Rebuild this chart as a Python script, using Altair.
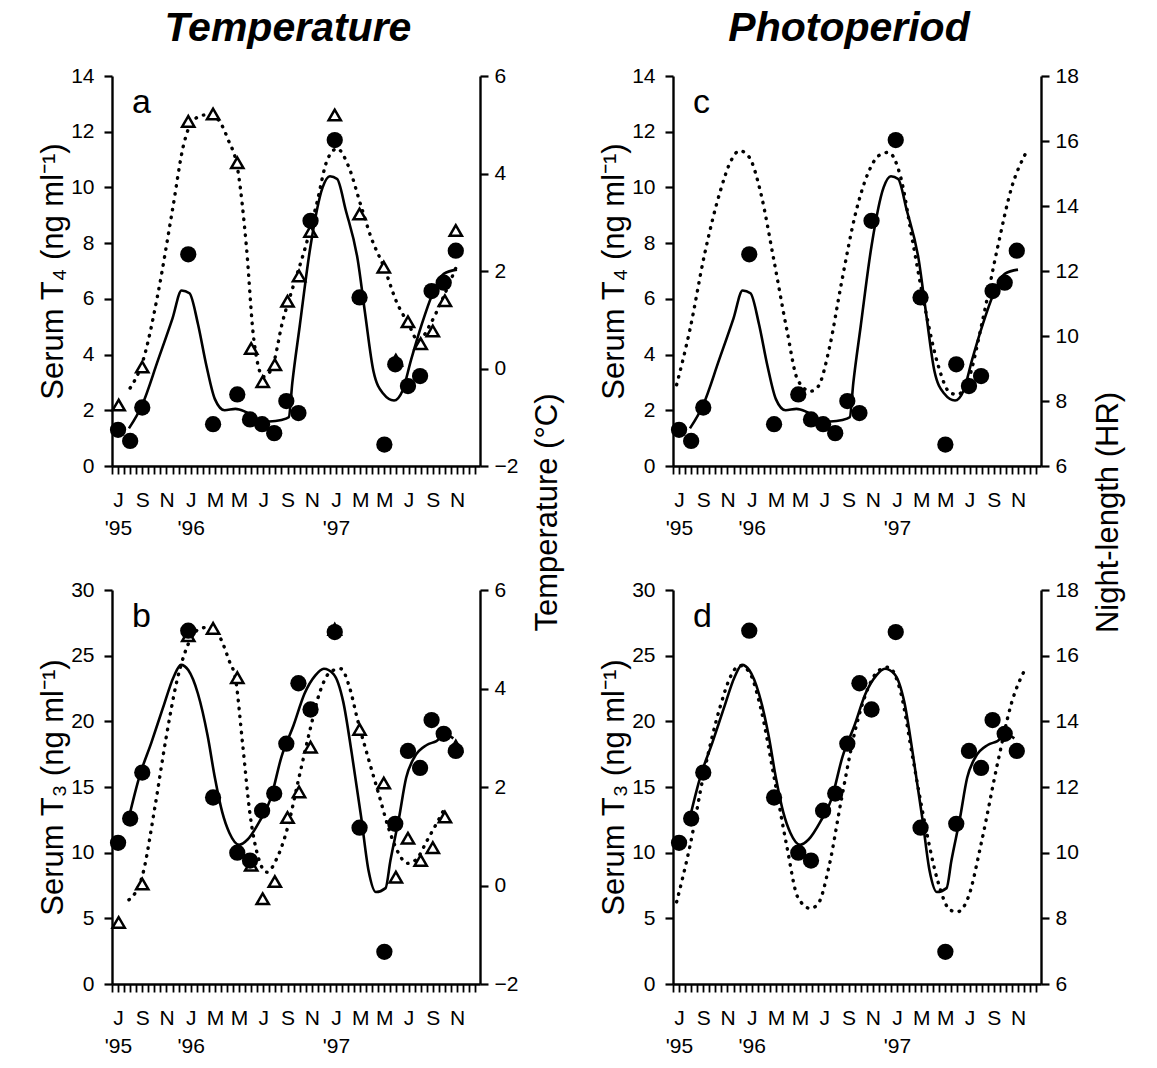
import altair as alt
import pandas as pd

FONT = "Liberation Sans"

# ---- x positions are months since 1 July 1995 ----
sample_month = [0.5, 1.5, 2.5, 6.3, 8.35, 10.35, 11.4, 12.4, 13.4, 14.4, 15.4, 16.4,
                18.4, 20.45, 22.5, 23.4, 24.45, 25.45, 26.4, 27.4, 28.4]
t4_value = [1.3, 0.9, 2.1, 7.6, 1.5, 2.57, 1.67, 1.5, 1.18, 2.33, 1.9, 8.8,
            11.7, 6.05, 0.77, 3.65, 2.87, 3.23, 6.28, 6.58, 7.73]
t3_value = [10.75, 12.6, 16.1, 26.9, 14.2, 10.0, 9.4, 13.2, 14.5, 18.3, 22.9, 20.9,
            26.8, 11.9, 2.45, 12.2, 17.75, 16.45, 20.1, 19.05, 17.75]

temp_month = [0.55, 2.5, 6.3, 8.35, 10.35, 11.5, 12.45, 13.45, 14.5, 15.45, 16.4, 18.4,
              20.45, 22.45, 23.45, 24.45, 25.5, 26.5, 27.5, 28.4]
temp_value = [-0.75, 0.03, 5.07, 5.22, 4.22, 0.41, -0.27, 0.08, 1.38, 1.9, 2.81, 5.2,
              3.17, 2.08, 0.17, 0.96, 0.51, 0.77, 1.39, 2.83]

# fitted T4 curve (solid)
t4_fit_month = [1.4, 2.5, 3.8, 5.0, 5.75, 6.4, 7.1, 7.8, 8.5, 9.3, 10.2, 11.0, 12.0, 13.0,
                14.0, 14.6, 14.9, 15.5, 16.4, 17.4, 18.0, 18.6, 19.3, 20.3, 20.9, 21.6,
                22.4, 23.3, 24.0, 24.7, 25.6, 26.5, 27.4, 28.5]
t4_fit_value = [1.35, 2.2, 3.8, 5.3, 6.3, 6.2, 5.1, 3.6, 2.4, 2.0, 2.05, 1.95, 1.7, 1.6,
                1.65, 1.75, 3.0, 5.0, 7.9, 10.0, 10.4, 10.3, 9.2, 7.4, 5.5, 3.4,
                2.6, 2.35, 2.7, 3.8, 5.1, 6.2, 6.9, 7.05]

# fitted T3 curve (solid)
t3_fit_month = [1.3, 2.3, 3.26, 4.2, 5.1, 5.7, 6.3, 7.1, 7.9, 8.5, 9.1, 9.7, 10.5, 11.2,
                12.2, 13.1, 14.0, 15.0, 15.9, 16.8, 17.5, 18.3, 19.1, 19.8, 20.6, 21.2,
                21.8, 22.6, 23.0, 23.7, 24.3, 25.0, 26.0, 26.8, 27.5, 28.2]
t3_fit_value = [12.3, 15.9, 18.4, 21.0, 23.4, 24.3, 23.9, 22.1, 18.9, 15.7, 13.1, 11.5, 10.6, 11.0,
                12.4, 14.1, 17.3, 19.7, 22.1, 23.5, 24.0, 23.6, 21.5, 17.6, 12.6, 8.6,
                7.0, 7.3, 9.4, 12.6, 15.7, 17.3, 18.2, 18.5, 19.0, 18.7]

# temperature curve (dotted), panel a
tcurve_a_month = [1.5, 2.57, 3.8, 5.0, 5.9, 6.7, 7.7, 8.6, 9.6, 10.4, 11.1, 11.7, 12.5, 13.2,
                  14.1, 15.0, 16.0, 16.9, 17.8, 18.6, 19.5, 20.6, 21.4, 22.5, 23.5, 24.5,
                  25.3, 26.3, 27.2, 28.4]
tcurve_a_value = [-0.4, 0.17, 1.54, 3.26, 4.57, 5.09, 5.2, 5.14, 4.69, 4.06, 2.51, 0.63, -0.17, 0.0,
                  0.97, 1.71, 2.51, 3.37, 4.29, 4.51, 4.17, 3.31, 2.69, 2.06, 1.37, 0.91,
                  0.57, 0.91, 1.37, 2.06]

# temperature curve (dotted), panel b
tcurve_b_month = [1.4, 2.5, 3.55, 4.45, 5.36, 6.6, 7.3, 8.25, 9.0, 9.7, 10.2, 10.8, 11.4, 12.05,
                  12.8, 13.6, 14.5, 15.4, 16.3, 17.2, 18.1, 18.9, 19.65, 20.25, 21.2, 22.1,
                  22.8, 23.6, 24.4, 25.1, 26.0, 26.9, 27.55]
tcurve_b_value = [-0.29, 0.19, 1.6, 2.97, 4.15, 5.05, 5.22, 5.25, 5.0, 4.55, 4.2, 2.85, 1.45, 0.6,
                  0.27, 0.54, 1.17, 2.14, 3.1, 3.95, 4.35, 4.4, 4.0, 3.4, 2.56, 1.8,
                  1.2, 0.69, 0.45, 0.52, 0.9, 1.3, 1.6]

# night length (dotted), panels c and d
night_month = [0.3, 1.4, 2.6, 3.9, 4.8, 5.5, 6.3, 7.25, 8.3, 9.4, 10.3, 11.35, 12.0, 12.9,
               13.9, 15.1, 16.1, 17.0, 17.8, 18.8, 19.8, 20.8, 21.9, 22.9, 23.5, 24.4,
               25.5, 26.8, 28.0, 29.1]
night_value = [8.5, 10.2, 12.5, 14.45, 15.4, 15.7, 15.5, 14.4, 12.4, 10.2, 8.65, 8.3, 8.45, 9.6,
               11.6, 13.8, 15.0, 15.55, 15.65, 14.9, 12.9, 10.9, 9.1, 8.25, 8.2, 8.65,
               10.35, 12.7, 14.6, 15.6]

# axis tick labels
month_letters = ["J", "S", "N", "J", "M", "M", "J", "S", "N", "J", "M", "M", "J", "S", "N"]
letter_month = [0.5, 2.5, 4.5, 6.5, 8.5, 10.5, 12.5, 14.5, 16.5, 18.5, 20.5, 22.5, 24.5, 26.5, 28.5]
year_text = {0.5: "'95", 6.5: "'96", 18.5: "'97"}
minor_ticks = [i * 0.5 for i in range(61)]

t4_ticks = [0, 2, 4, 6, 8, 10, 12, 14]
t3_ticks = [0, 5, 10, 15, 20, 25, 30]
temp_ticks = [-2, 0, 2, 4, 6]
night_ticks = [6, 8, 10, 12, 14, 16, 18]

W = 368
H_TOP = 390
H_BOT = 394
X_DOMAIN = [0, 30.4]

parts = []
for pos, let in zip(letter_month, month_letters):
    if pos in year_text:
        txt = "['%s', \"%s\"]" % (let, year_text[pos])
    else:
        txt = "'%s'" % let
    parts.append("abs(datum.value - %s) < 0.01 ? %s : " % (pos, txt))
label_expr = "".join(parts) + "''"

AX = dict(domainColor="black", domainWidth=2.4, tickColor="black", labelColor="black",
          titleColor="black", labelFont=FONT, titleFont=FONT, labelFontSize=21,
          titleFontSize=31, titleFontWeight="normal", grid=False)

x_axis = alt.Axis(orient="bottom", values=minor_ticks, labelExpr=label_expr, labelOverlap=False,
                  labelFlush=False, tickSize=8, tickWidth=1.8, labelPadding=15,
                  labelLineHeight=28, title=None, **AX)
x_scale = alt.Scale(domain=X_DOMAIN, nice=False, zero=False)


def xenc():
    return alt.X("m:Q", scale=x_scale, axis=x_axis)


def left_axis(title, values, H):
    return alt.Axis(orient="left", values=values, title=title, titleAngle=270,
                    titleX=-50, titleY=H / 2, titleAlign="center", titleBaseline="alphabetic",
                    tickSize=8, tickWidth=2.2, labelPadding=10, **AX)


def right_axis(values, title, H):
    if title:
        kw = dict(title=title, titleAngle=270, titleX=76, titleY=436, titleAlign="center",
                  titleBaseline="alphabetic")
    else:
        kw = dict(title=None)
    return alt.Axis(orient="right", values=values, tickSize=8, tickWidth=2.2, labelPadding=6,
                    **kw, **AX)


def panel(letter, H, pts_vals, fit_m, fit_v, left_dom, left_vals, left_title,
          curve_m, curve_v, right_dom, right_vals, right_title, tri=True, col_title=None):
    pts = pd.DataFrame({"m": sample_month, "v": pts_vals})
    fit = pd.DataFrame({"m": fit_m, "v": fit_v})
    cur = pd.DataFrame({"m": curve_m, "v": curve_v})
    lscale = alt.Scale(domain=left_dom, nice=False, zero=False)
    rscale = alt.Scale(domain=right_dom, nice=False, zero=False)
    laxis = left_axis(left_title, left_vals, H)
    raxis = right_axis(right_vals, right_title, H)

    right_layers = [
        alt.Chart(cur).mark_line(color="black", strokeWidth=3.4, strokeDash=[0.5, 7.5],
                                 strokeCap="round", interpolate="monotone")
        .encode(x=xenc(), y=alt.Y("v:Q", scale=rscale, axis=raxis))
    ]
    if tri:
        tdf = pd.DataFrame({"m": temp_month, "v": temp_value})
        right_layers.append(
            alt.Chart(tdf).mark_point(shape="triangle-up", filled=True, fill="white",
                                      stroke="black", strokeWidth=2.5, size=150, opacity=1)
            .encode(x=xenc(), y=alt.Y("v:Q", scale=rscale, axis=raxis))
        )
    right = alt.layer(*right_layers)

    left = alt.layer(
        alt.Chart(fit).mark_line(color="black", strokeWidth=2.6, interpolate="monotone")
        .encode(x=xenc(), y=alt.Y("v:Q", scale=lscale, axis=laxis)),
        alt.Chart(pts).mark_circle(color="black", size=265, opacity=1)
        .encode(x=xenc(), y=alt.Y("v:Q", scale=lscale, axis=laxis)),
    )
    texts = [
        alt.Chart(pd.DataFrame({"t": [letter]})).mark_text(
            align="left", baseline="alphabetic", fontSize=34, font=FONT, color="black"
        ).encode(x=alt.value(20), y=alt.value(37), text="t:N")
    ]
    if col_title:
        texts.append(
            alt.Chart(pd.DataFrame({"t": [col_title]})).mark_text(
                align="center", baseline="alphabetic", fontSize=41, font=FONT,
                fontStyle="italic", fontWeight="bold", color="black"
            ).encode(x=alt.value(W / 2 - 8), y=alt.value(-35), text="t:N")
        )
    return alt.layer(right, left, *texts).resolve_scale(y="independent").properties(
        width=W, height=H)


t4_title = "Serum T\u2084 (ng ml\u207b\u00b9)"
t3_title = "Serum T\u2083 (ng ml\u207b\u00b9)"

pa = panel("a", H_TOP, t4_value, t4_fit_month, t4_fit_value, [0, 14], t4_ticks, t4_title,
           tcurve_a_month, tcurve_a_value, [-2, 6], temp_ticks, "Temperature (\u00b0C)",
           tri=True, col_title="Temperature")
pc = panel("c", H_TOP, t4_value, t4_fit_month, t4_fit_value, [0, 14], t4_ticks, t4_title,
           night_month, night_value, [6, 18], night_ticks, "Night-length (HR)",
           tri=False, col_title="Photoperiod")
pb = panel("b", H_BOT, t3_value, t3_fit_month, t3_fit_value, [0, 30], t3_ticks, t3_title,
           tcurve_b_month, tcurve_b_value, [-2, 6], temp_ticks, None, tri=True)
pd_ = panel("d", H_BOT, t3_value, t3_fit_month, t3_fit_value, [0, 30], t3_ticks, t3_title,
            night_month, night_value, [6, 18], night_ticks, None, tri=False)

chart = alt.concat(pa, pc, pb, pd_, columns=2, spacing={"row": 124, "column": 193},
                   bounds="flush").properties(
    padding={"left": 36, "top": 8, "right": 5, "bottom": 5},
    background="white"
).configure_view(stroke=None)

chart.save("out.html", embed_options={"renderer": "svg", "actions": False})
